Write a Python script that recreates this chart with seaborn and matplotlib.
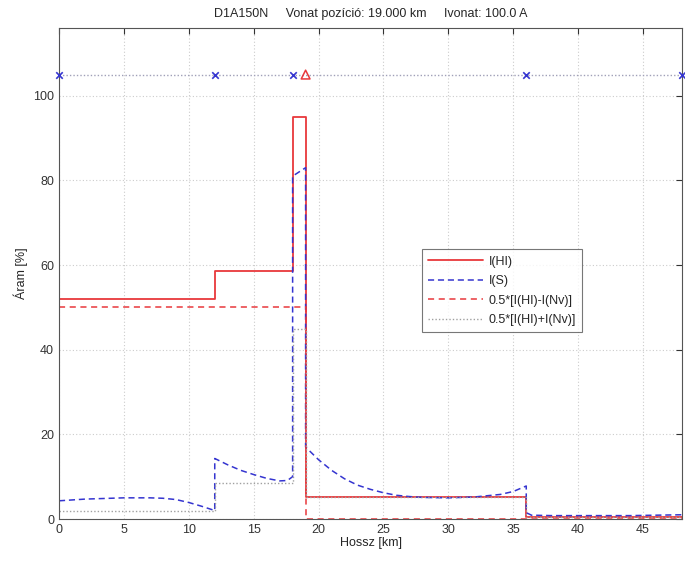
import matplotlib
matplotlib.use("Agg")
import matplotlib.pyplot as plt
import seaborn as sns
import pandas as pd
import numpy as np

# I(HI) - piecewise constant, breakpoints duplicated for the vertical jumps
hi_x = [0, 12, 12, 18, 18, 19, 19, 36, 36, 48]
hi_y = [52, 52, 58.5, 58.5, 95, 95, 5.2, 5.2, 0.5, 0.5]

# I(S)
s_x = [0, 1, 2, 3, 4, 5, 6, 7, 8, 9, 10, 11, 12,
       12, 13, 14, 15, 16, 17, 17.6, 18,
       18, 19,
       19, 20, 21, 22, 23, 24, 25, 26, 27, 28, 30, 32, 34, 35, 36,
       36, 36.4, 38, 40, 42, 44, 46, 48]
s_y = [4.3, 4.5, 4.7, 4.8, 4.9, 5.0, 5.0, 5.0, 4.9, 4.6, 3.9, 3.0, 2.0,
       14.3, 12.8, 11.5, 10.5, 9.6, 9.0, 9.1, 10.0,
       81, 83,
       17, 14, 11.5, 9.5, 8.0, 7.0, 6.2, 5.6, 5.3, 5.1, 5.0, 5.2, 5.8, 6.5, 7.8,
       1.5, 0.9, 0.8, 0.8, 0.8, 0.8, 0.9, 1.0]

# 0.5*[I(HI)-I(Nv)]
dif_x = [0, 19, 19, 48]
dif_y = [50, 50, 0, 0]

# 0.5*[I(HI)+I(Nv)]
sum_x = [0, 12, 12, 18, 18, 19, 19, 36, 36, 48]
sum_y = [2, 2, 8.5, 8.5, 45, 45, 5.2, 5.2, 0.5, 0.5]

# marker row at the top
sect_x = [0, 12, 18, 36, 48]
train_x = [19]
marker_level = 105

sns.set_style("white")
plt.rcParams['font.family'] = ['Liberation Sans', 'DejaVu Sans']

red = '#e8383c'
blue = '#3535d0'

fig = plt.figure(figsize=(6.85, 5.61), dpi=100)
ax = fig.add_axes([59 / 685, 1 - 519 / 561, 623 / 685, 491 / 561])

common = dict(ax=ax, sort=False, estimator=None)
sns.lineplot(x=hi_x, y=hi_y, color=red, linewidth=1.3, label='I(HI)', **common)
sns.lineplot(x=s_x, y=s_y, color=blue, linewidth=1.1, linestyle=(0, (4, 2.5)), label='I(S)', **common)
sns.lineplot(x=dif_x, y=dif_y, color=red, linewidth=1.1, linestyle=(0, (4, 3)),
             label='0.5*[I(HI)-I(Nv)]', **common)
sns.lineplot(x=sum_x, y=sum_y, color='#a0a0a0', linewidth=1.0, linestyle=(0, (1, 1.5)),
             label='0.5*[I(HI)+I(Nv)]', **common)

# marker row
ax.plot([0, 48], [marker_level, marker_level], color='#a0a0b8', linewidth=1.0,
        linestyle=(0, (1, 1.5)), zorder=2)
sns.scatterplot(x=sect_x, y=[marker_level] * len(sect_x), marker='x', color=blue,
                s=22, linewidth=1.2, ax=ax, legend=False, zorder=5, clip_on=False)
ax.scatter(train_x, [marker_level] * len(train_x), marker='^', facecolor='none',
           edgecolor=red, s=40, linewidth=1.1, zorder=5)

ax.set_xlim(0, 48)
ax.set_ylim(0, 116)
ax.set_xticks(np.arange(0, 46, 5))
ax.set_yticks(np.arange(0, 101, 20))
ax.tick_params(direction='in', labelsize=9, colors='#333333', length=4,
               top=True, right=True)
ax.grid(True, color='#cccccc', linestyle=(0, (1, 2)), linewidth=0.8)
for sp in ax.spines.values():
    sp.set_color('#555555')
    sp.set_linewidth(0.8)

ax.set_xlabel("Hossz [km]", fontsize=9, labelpad=1)
ax.set_ylabel("Áram [%]", fontsize=9, labelpad=4)
ax.set_title("D1A150N     Vonat pozíció: 19.000 km     Ivonat: 100.0 A",
             fontsize=9, pad=8)

leg = ax.legend(loc='upper left', bbox_to_anchor=(0.583, 0.549), fontsize=9,
                handlelength=4.4, frameon=True, fancybox=False, borderpad=0.5,
                labelspacing=0.6, handletextpad=0.4, borderaxespad=0)
leg.get_frame().set_edgecolor('#555555')
leg.get_frame().set_linewidth(0.8)

fig.savefig("out.png", dpi=100)
